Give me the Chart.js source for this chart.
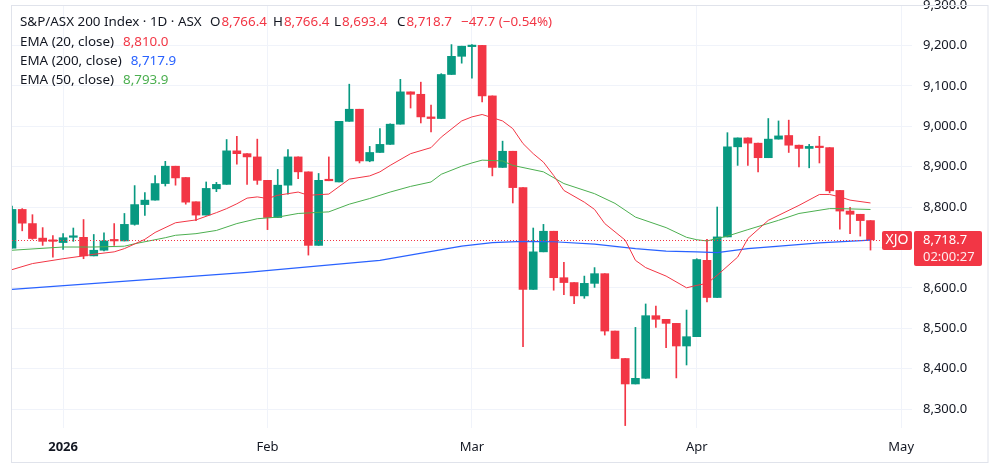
<!DOCTYPE html>
<html>
<head>
<meta charset="utf-8">
<script src="https://cdn.jsdelivr.net/npm/chart.js@4.4.1/dist/chart.umd.min.js"></script>
<style>
    html, body { margin: 0; padding: 0; background: #fff; }
    #wrap { width: 1000px; height: 468px; }
</style>
</head>
<body>
<div id="wrap"><canvas id="chart"></canvas></div>
<script>
// trading days (ASX, daily candles)
const dates = [
    "2025-12-23","2025-12-24","2025-12-29","2025-12-30","2025-12-31",
    "2026-01-02","2026-01-05","2026-01-06","2026-01-07","2026-01-08","2026-01-09",
    "2026-01-12","2026-01-13","2026-01-14","2026-01-15","2026-01-16",
    "2026-01-19","2026-01-20","2026-01-21","2026-01-22","2026-01-23",
    "2026-01-27","2026-01-28","2026-01-29","2026-01-30",
    "2026-02-02","2026-02-03","2026-02-04","2026-02-05","2026-02-06",
    "2026-02-09","2026-02-10","2026-02-11","2026-02-12","2026-02-13",
    "2026-02-16","2026-02-17","2026-02-18","2026-02-19","2026-02-20",
    "2026-02-23","2026-02-24","2026-02-25","2026-02-26","2026-02-27",
    "2026-03-02","2026-03-03","2026-03-04","2026-03-05","2026-03-06",
    "2026-03-09","2026-03-10","2026-03-11","2026-03-12","2026-03-13",
    "2026-03-16","2026-03-17","2026-03-18","2026-03-19","2026-03-20",
    "2026-03-23","2026-03-24","2026-03-25","2026-03-26","2026-03-27",
    "2026-03-30","2026-03-31","2026-04-01","2026-04-02",
    "2026-04-07","2026-04-08","2026-04-09","2026-04-10",
    "2026-04-13","2026-04-14","2026-04-15","2026-04-16","2026-04-17",
    "2026-04-20","2026-04-21","2026-04-22","2026-04-23","2026-04-24",
    "2026-04-27","2026-04-28"
];

const opens = [
    8698, 8794, 8759, 8723, 8717, 8712, 8725, 8725, 8679, 8693,
    8718, 8716, 8757, 8806, 8817, 8858, 8901, 8873, 8813, 8780,
    8845, 8856, 8939, 8932, 8924, 8866, 8774, 8854, 8924, 8887,
    8705, 8868, 8862, 9012, 9042, 8914, 8935, 8955, 9005, 9085,
    9079, 9023, 9019, 9128, 9173, 9197, 9200, 9075, 8898, 8938,
    8848, 8596, 8689, 8740, 8625, 8613, 8580, 8611, 8635, 8493,
    8425, 8362, 8376, 8531, 8522, 8512, 8456, 8479, 8668, 8576,
    8726, 8949, 8971, 8958, 8922, 8968, 8977, 8953, 8945, 8950,
    8947, 8841, 8790, 8782, 8766.4
];
const highs = [
    8802, 8796, 8781, 8749, 8729, 8734, 8748, 8769, 8732, 8736,
    8759, 8784, 8853, 8836, 8878, 8913, 8901, 8873, 8813, 8862,
    8861, 8967, 8975, 8932, 8968, 8866, 8893, 8942, 8924, 8887,
    8883, 8924, 9012, 9104, 9042, 8950, 8994, 9006, 9116, 9085,
    9109, 9052, 9130, 9202, 9198, 9202, 9200, 9075, 8963, 8938,
    8848, 8748, 8757, 8740, 8663, 8613, 8629, 8650, 8635, 8493,
    8425, 8502, 8560, 8555, 8522, 8512, 8545, 8672, 8720, 8800,
    8984, 8971, 8971, 8958, 9019, 9013, 9015, 8953, 8955, 8975,
    8947, 8841, 8799, 8782, 8766.4
];
const lows = [
    8698, 8741, 8720, 8705, 8676, 8695, 8715, 8672, 8679, 8691,
    8705, 8716, 8755, 8779, 8817, 8852, 8854, 8807, 8766, 8780,
    8838, 8856, 8906, 8856, 8856, 8744, 8774, 8832, 8870, 8681,
    8705, 8865, 8862, 9012, 8909, 8912, 8935, 8955, 9005, 9045,
    9008, 8986, 9019, 9128, 9156, 9119, 9060, 8877, 8898, 8810,
    8454, 8596, 8689, 8594, 8583, 8561, 8574, 8601, 8483, 8425,
    8259, 8362, 8376, 8502, 8452, 8377, 8409, 8479, 8565, 8576,
    8726, 8903, 8903, 8887, 8922, 8968, 8935, 8899, 8897, 8909,
    8835, 8745, 8734, 8728, 8693.4
];
const closes = [
    8794, 8760, 8722, 8715, 8715, 8724, 8728, 8679, 8693, 8716,
    8716, 8757, 8806, 8817, 8858, 8901, 8872, 8812, 8780, 8846,
    8856, 8939, 8932, 8924, 8866, 8774, 8854, 8924, 8887, 8705,
    8866, 8865, 9012, 9042, 8914, 8935, 8955, 9005, 9085, 9079,
    9023, 9019, 9128, 9173, 9198, 9200, 9075, 8898, 8938, 8848,
    8596, 8689, 8740, 8625, 8613, 8580, 8611, 8635, 8493, 8425,
    8362, 8376, 8531, 8522, 8512, 8456, 8479, 8670, 8576, 8726,
    8949, 8971, 8958, 8922, 8968, 8976, 8953, 8945, 8950, 8947,
    8840, 8790, 8782, 8766.4, 8718.7
];

// EMA lines at these candle positions
const ema20Idx = [0, 2, 5, 7, 8, 10, 11, 13, 14, 16, 18, 20, 21, 22, 23, 24, 25, 26, 28, 29,
    31, 33, 35, 36, 37, 39, 41, 42, 44, 45, 46, 48, 49, 50, 51, 52, 53, 54, 56, 57,
    58, 60, 61, 62, 64, 66, 67, 68, 69, 71, 72, 74, 77, 79, 80, 81, 82, 84];
const ema20 = [8645, 8660, 8672, 8679, 8683, 8689, 8697, 8720, 8737, 8761, 8768, 8786, 8796, 8808, 8822, 8825, 8821, 8829, 8837, 8829,
    8832, 8869, 8877, 8887, 8903, 8932, 8947, 8973, 9013, 9023, 9029, 9013, 8994, 8957, 8932, 8911, 8878, 8841, 8812, 8794,
    8759, 8718, 8668, 8650, 8629, 8600, 8606, 8611, 8631, 8676, 8722, 8767, 8804, 8831, 8831, 8825, 8817, 8810.0];

const ema50Idx = [0, 5, 8, 11, 12, 15, 16, 18, 20, 22, 24, 26, 28, 31, 33, 35, 37, 39, 41, 42,
    44, 45, 46, 48, 49, 52, 54, 57, 59, 61, 64, 66, 67, 68, 70, 72, 75, 77, 80, 81, 84];
const ema50 = [8693, 8701, 8701, 8703, 8709, 8724, 8730, 8734, 8742, 8759, 8771, 8775, 8784, 8788, 8807, 8821, 8837, 8851, 8862, 8881,
    8901, 8909, 8916, 8914, 8903, 8887, 8858, 8833, 8809, 8775, 8749, 8725, 8719, 8716, 8728, 8744, 8767, 8784, 8796, 8796, 8793.9];

const ema200Idx = [0, 23, 36, 44, 47, 50, 53, 57, 61, 64, 67, 69, 72, 76, 79, 84];
const ema200 = [8596, 8638, 8668, 8703, 8712, 8715, 8714, 8708, 8697, 8691, 8689, 8687, 8697, 8705, 8711, 8717.9];

// axis ticks
const monthTickIdx = [5, 25, 45, 67, 87];
const monthTickLabels = ["2026", "Feb", "Mar", "Apr", "May"];
const priceTicks = [8300, 8400, 8500, 8600, 8700, 8800, 8900, 9000, 9100, 9200, 9300];

const UP = "#089981";
const DOWN = "#f23645";
const DARK = "#131722";
const GRID = "#f0f3fa";
const FONT = "'Noto Sans'";

const fmt = v => v.toLocaleString("en-US", { minimumFractionDigits: 1, maximumFractionDigits: 1 });
const candleColor = closes.map((c, i) => c >= opens[i] ? UP : DOWN);
const toPoints = (xs, ys) => xs.map((x, i) => ({ x: x, y: ys[i] }));

/* legend text, price line and price labels */
const overlayPlugin = {
    id: "overlay",
    afterDatasetsDraw(chart) {
        const c = chart.ctx;
        const area = chart.chartArea;
        const py = chart.scales.y.getPixelForValue(closes.at(-1));
        c.save();
        c.strokeStyle = candleColor.at(-1);
        c.lineWidth = 1;
        c.setLineDash([1, 2]);
        c.beginPath();
        c.moveTo(area.left, Math.round(py) + 0.5);
        c.lineTo(area.right, Math.round(py) + 0.5);
        c.stroke();
        c.restore();
    },
    afterDraw(chart) {
        const c = chart.ctx;
        const py = Math.round(chart.scales.y.getPixelForValue(closes.at(-1)));
        c.save();

        // frame
        c.strokeStyle = "#e0e3eb";
        c.lineWidth = 1;
        c.strokeRect(11.5, 5.5, 976.5, 457);

        // header legend
        c.font = `13.4px ${FONT}`;
        c.textBaseline = "middle";
        const put = (text, x, y, color) => {
            c.fillStyle = color;
            c.fillText(text, x, y);
            return x + c.measureText(text).width;
        };
        put("S&P/ASX 200 Index \u00b7 1D \u00b7 ASX", 20, 22, DARK);
        const last = closes.length - 1;
        const chg = closes[last] - closes[last - 1];
        const pct = chg / closes[last - 1] * 100;
        const ohlc = [["O", opens[last], 210], ["H", highs[last], 273], ["L", lows[last], 334], ["C", closes[last], 397]];
        ohlc.forEach(([k, v, x]) => {
            const e = put(k, x, 22, DARK);
            put(fmt(v), e + 1, 22, DOWN);
        });
        put(`\u2212${Math.abs(chg).toFixed(1)} (\u2212${Math.abs(pct).toFixed(2)}%)`, 461, 22, DOWN);

        const rows = [
            ["EMA (20, close)", ema20.at(-1), DOWN, 42],
            ["EMA (200, close)", ema200.at(-1), "#2962ff", 61],
            ["EMA (50, close)", ema50.at(-1), "#4caf50", 80]
        ];
        rows.forEach(([label, v, color, y]) => {
            const e = put(label, 20, y, DARK);
            put(fmt(v), e + 9, y, color);
        });

        // symbol tag + price tag
        c.fillStyle = DOWN;
        c.beginPath();
        c.roundRect(882, py - 9, 30, 19, 2);
        c.fill();
        c.beginPath();
        c.roundRect(914, py - 9, 68, 35, 2);
        c.fill();
        c.fillStyle = "#fff";
        c.font = `14px ${FONT}`;
        c.textAlign = "center";
        c.fillText("XJO", 897, py + 0.5);
        c.textAlign = "left";
        c.font = `13px ${FONT}`;
        c.fillText(fmt(closes[last]), 923, py + 0.5);
        c.fillStyle = "rgba(255,255,255,0.9)";
        c.fillText("02:00:27", 923, py + 17);
        c.restore();
    }
};

new Chart(document.getElementById("chart"), {
    type: "bar",
    data: {
        datasets: [
            {
                type: "line",
                label: "EMA 20",
                data: toPoints(ema20Idx, ema20),
                borderColor: DOWN,
                borderWidth: 1,
                pointRadius: 0,
                tension: 0,
                order: 0,
                clip: 0
            },
            {
                type: "line",
                label: "EMA 50",
                data: toPoints(ema50Idx, ema50),
                borderColor: "#4caf50",
                borderWidth: 1,
                pointRadius: 0,
                tension: 0,
                order: 0,
                clip: 0
            },
            {
                type: "line",
                label: "EMA 200",
                data: toPoints(ema200Idx, ema200),
                borderColor: "#2962ff",
                borderWidth: 1.2,
                pointRadius: 0,
                tension: 0,
                order: 0,
                clip: 0
            },
            {
                label: "bodies",
                data: dates.map((_, i) => ({ x: i, y: [opens[i], closes[i]] })),
                backgroundColor: candleColor,
                barThickness: 8,
                minBarLength: 1.5,
                grouped: false,
                order: 1,
                clip: 0
            },
            {
                label: "wicks",
                data: dates.map((_, i) => ({ x: i, y: [lows[i], highs[i]] })),
                backgroundColor: candleColor,
                barThickness: 1,
                grouped: false,
                order: 2,
                clip: 0
            }
        ]
    },
    options: {
        responsive: true,
        maintainAspectRatio: false,
        animation: false,
        events: [],
        layout: { padding: { left: 12, top: 5, right: 12, bottom: 5 } },
        plugins: {
            legend: { display: false },
            tooltip: { enabled: false }
        },
        scales: {
            x: {
                type: "linear",
                min: 0,
                max: 88.06,
                offset: false,
                grid: { color: GRID, drawTicks: false, offset: false },
                border: { display: false },
                afterBuildTicks: s => { s.ticks = monthTickIdx.map(v => ({ value: v })); },
                afterFit: s => { s.height = 35; s.paddingLeft = 0; s.paddingRight = 0; },
                ticks: {
                    autoSkip: false,
                    maxRotation: 0,
                    padding: 11,
                    color: DARK,
                    font: ctx => ({ family: "Noto Sans", size: 13, weight: ctx.index === 0 ? "bold" : "normal" }),
                    callback: v => monthTickLabels[monthTickIdx.indexOf(v)]
                }
            },
            y: {
                position: "right",
                min: 8253,
                max: 9300,
                grid: { color: GRID, drawTicks: false },
                border: { display: false },
                afterBuildTicks: s => { s.ticks = priceTicks.map(v => ({ value: v })); },
                afterFit: s => { s.width = 76; s.paddingTop = 0; s.paddingBottom = 0; },
                ticks: {
                    padding: 11,
                    color: DARK,
                    font: { family: "Noto Sans", size: 13 },
                    callback: v => fmt(v)
                }
            }
        }
    },
    plugins: [overlayPlugin]
});
</script>
</body>
</html>
